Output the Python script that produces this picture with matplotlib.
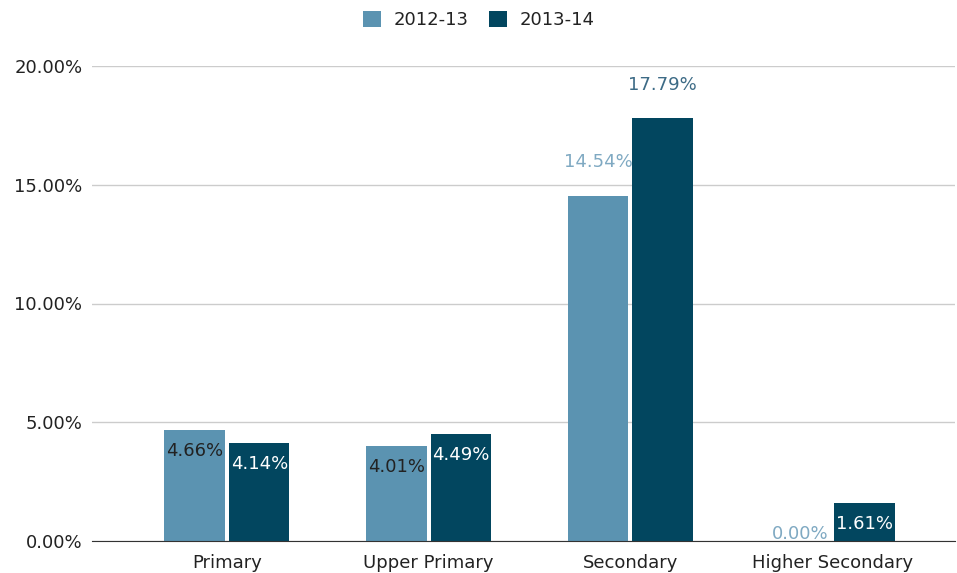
import matplotlib.pyplot as plt
import numpy as np
from matplotlib.ticker import FuncFormatter

plt.rcParams['font.family'] = ['DejaVu Sans']

categories = ["Primary", "Upper Primary", "Secondary", "Higher Secondary"]
series = ["2012-13", "2013-14"]
vals_2012 = [4.66, 4.01, 14.54, 0.00]
vals_2013 = [4.14, 4.49, 17.79, 1.61]

colors = ["#5b93b1", "#02465f"]
# label placement: inside top of bar or above it
label_in_2012 = [True, True, False, False]
label_in_2013 = [True, True, False, True]

FS = 13

fig = plt.figure(figsize=(9.57, 5.73), dpi=100)
ax = fig.add_axes([92 / 957, 32 / 573, (955 - 92) / 957, (541 - 66) / 573])

x = np.arange(len(categories))
width = 0.30
off = 0.16

b1 = ax.bar(x - off, vals_2012, width, color=colors[0], label=series[0], zorder=3)
b2 = ax.bar(x + off, vals_2013, width, color=colors[1], label=series[1], zorder=3)

def add_labels(bars, vals, inside, in_color, out_color):
    for bar, v, ins in zip(bars, vals, inside):
        cx = bar.get_x() + bar.get_width() / 2
        txt = f"{v:.2f}%"
        if ins and v > 0:
            dy = -15
            col = in_color
        elif v == 0:
            dy = 5
            col = out_color
        else:
            dy = 24
            col = out_color
        ax.annotate(txt, (cx, v), xytext=(0, dy), textcoords="offset points",
                    ha="center", va="center", fontsize=FS, color=col, zorder=4)

add_labels(b1, vals_2012, label_in_2012, "#222222", "#7fa9c2")
add_labels(b2, vals_2013, label_in_2013, "#ffffff", "#3d6b86")

ax.set_ylim(0, 20)
ax.set_xlim(-0.669, 3.609)
ax.set_yticks([0, 5, 10, 15, 20])
ax.yaxis.set_major_formatter(FuncFormatter(lambda v, p: f"{v:.2f}%"))
ax.set_xticks(x)
ax.set_xticklabels(categories)
ax.tick_params(axis="both", length=0, labelsize=FS, colors="#222222")
ax.tick_params(axis="y", pad=7)
ax.tick_params(axis="x", pad=9)

ax.grid(True, axis="y", color="#cccccc", linewidth=1, zorder=0)
for s in ["top", "right", "left"]:
    ax.spines[s].set_visible(False)
ax.spines["bottom"].set_color("#333333")
ax.spines["bottom"].set_zorder(5)

fig.legend(loc="center", bbox_to_anchor=(479 / 957, 1 - 20 / 573), ncol=2, frameon=False,
           fontsize=FS, handlelength=1.0, handleheight=1.0, columnspacing=1.1,
           handletextpad=0.7, labelcolor="#222222")

fig.savefig("out.png", dpi=100)
